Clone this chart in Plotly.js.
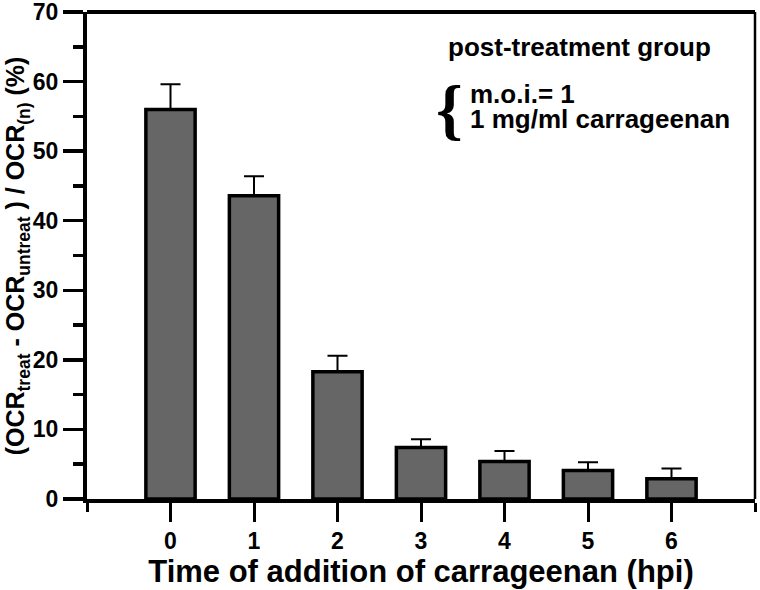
<!DOCTYPE html>
<html>
<head>
<meta charset="utf-8">
<script src="https://cdn.plot.ly/plotly-3.0.1.min.js"></script>
<style>html,body{margin:0;padding:0;background:#fff;}#chart{width:760px;height:590px;}</style>
</head>
<body>
<div id="chart"></div>
<script>
// Data
const hpi = [0, 1, 2, 3, 4, 5, 6];
const ratio = [56.0, 43.6, 18.3, 7.4, 5.4, 4.1, 2.9];
const errUp = [3.6, 2.8, 2.3, 1.2, 1.5, 1.2, 1.5];
const xTickLabels = ['0', '1', '2', '3', '4', '5', '6'];
const yTickVals = [0, 10, 20, 30, 40, 50, 60, 70];
const yTickLabels = ['0', '10', '20', '30', '40', '50', '60', '70'];
const legendTitle = 'post-treatment group';
const legendLines = ['m.o.i.= 1', '1 mg/ml carrageenan'];

const bold = {family: 'Liberation Sans, Arial, sans-serif', weight: 'bold', color: '#000'};

const trace = {
  type: 'bar',
  x: hpi,
  y: ratio,
  width: 0.59,
  marker: {color: '#666666', line: {color: '#000', width: 3.5}},
  error_y: {type: 'data', symmetric: false, array: errUp, arrayminus: errUp.map(() => 0),
            color: '#000', thickness: 2, width: 10},
  hoverinfo: 'skip'
};

const layout = {
  width: 760, height: 590,
  margin: {l: 87, r: 5, t: 12, b: 91},
  paper_bgcolor: '#fff', plot_bgcolor: '#fff',
  showlegend: false,
  xaxis: {
    range: [-1, 7], tickmode: 'array', tickvals: hpi, ticktext: xTickLabels,
    ticks: 'outside', ticklen: 19, tickwidth: 3, tickcolor: '#000',
    minor: {tickmode: 'array', tickvals: [-1, 7], ticks: 'outside', ticklen: 9, tickwidth: 3, tickcolor: '#000'},
    showline: true, linecolor: '#000', linewidth: 3.5, mirror: false,
    showgrid: false, zeroline: false, ticklabeloverflow: 'allow',
    tickfont: Object.assign({size: 23}, bold),
    title: {text: 'Time of addition of carrageenan (hpi)', font: Object.assign({size: 31}, bold), standoff: 8}
  },
  yaxis: {
    range: [0, 70], tickmode: 'array', tickvals: yTickVals, ticktext: yTickLabels,
    ticks: 'outside', ticklen: 20, tickwidth: 3.5, tickcolor: '#000',
    minor: {tickmode: 'array', tickvals: [5, 15, 25, 35, 45, 55, 65], ticks: 'outside', ticklen: 10, tickwidth: 3.5, tickcolor: '#000'},
    showline: true, linecolor: '#000', linewidth: 4,
    showgrid: false, zeroline: false, ticklabeloverflow: 'allow',
    tickfont: Object.assign({size: 23}, bold)
  },
  shapes: [
    {type: 'line', xref: 'paper', yref: 'paper', x0: 0, x1: 1, y0: 1, y1: 1, line: {color: '#000', width: 4}},
    {type: 'line', xref: 'paper', yref: 'paper', x0: 1, x1: 1, y0: 0, y1: 1, line: {color: '#000', width: 2.5}}
  ],
  annotations: [
    {xref: 'paper', yref: 'paper', x: -0.105, y: 0.5, textangle: -90, showarrow: false,
     xanchor: 'center', yanchor: 'middle',
     text: '(OCR<sub>treat</sub> - OCR<sub>untreat</sub> ) / OCR<sub>(n)</sub> (%)',
     font: Object.assign({size: 25}, bold)},
    {xref: 'paper', yref: 'paper', x: 0.537, y: 0.928, xanchor: 'left', yanchor: 'middle', showarrow: false,
     text: legendTitle, font: Object.assign({size: 26}, bold)},
    {xref: 'paper', yref: 'paper', x: 0.564, y: 0.80, xanchor: 'right', yanchor: 'middle', showarrow: false,
     borderpad: 0,
     text: '{', font: {family: 'Liberation Serif, serif', size: 68, weight: 'bold', color: '#000'}},
    {xref: 'paper', yref: 'paper', x: 0.571, y: 0.832, xanchor: 'left', yanchor: 'middle', showarrow: false,
     text: legendLines[0], font: Object.assign({size: 26}, bold)},
    {xref: 'paper', yref: 'paper', x: 0.571, y: 0.781, xanchor: 'left', yanchor: 'middle', showarrow: false,
     text: legendLines[1], font: Object.assign({size: 26}, bold)}
  ]
};

Plotly.newPlot('chart', [trace], layout, {staticPlot: true, displayModeBar: false});
</script>
</body>
</html>
